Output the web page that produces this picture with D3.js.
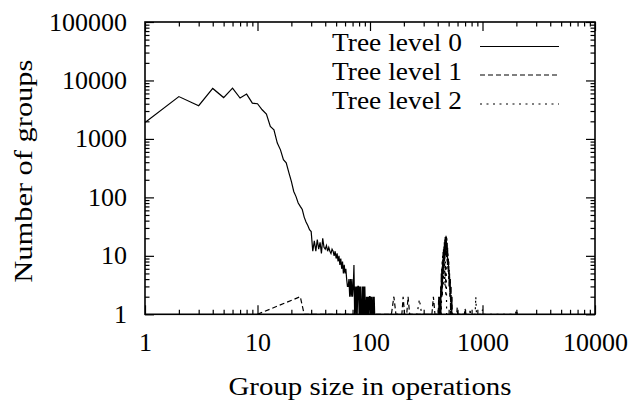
<!DOCTYPE html>
<html>
<head>
<meta charset="utf-8">
<script src="https://cdn.jsdelivr.net/npm/d3@7"></script>
</head>
<body style="margin:0">
<svg id="s" width="635" height="405"></svg>
<script>
// Group-size distribution per tree level (log-log)

const seriesNames = ["Tree level 0", "Tree level 1", "Tree level 2"];

// Tree level 0
const level0Sizes = [
  1, 2, 3, 4, 5, 6, 7, 8, 9, 10,
  11, 12, 13, 14, 15, 16, 17, 18, 19, 20,
  21, 22, 23, 24, 25, 26, 27, 28, 29, 30,
  31, 32, 33, 34, 35, 36, 37, 38, 39, 40,
  41, 42, 43, 44, 45, 46, 47, 48, 49, 50,
  51, 52, 53, 54, 55, 56, 57, 58, 59, 60,
  61, 62, 63, 64, 65, 66, 67, 68, 69, 70,
  71, 72, 73, 74, 75, 76, 77, 78, 79, 80,
  81, 82, 83, 84, 85, 86, 87, 88, 89, 90,
  91, 92, 93, 94, 95, 96, 97, 98, 99, 100,
  101, 102, 103, 104, 105, 106, 107, 108, 109, 110
];
const level0Counts = [
  1900, 5300, 3700, 7300, 5100, 7400, 5000, 5850, 4100, 4000,
  3150, 2650, 1630, 1430, 850, 650, 440, 390, 265, 188,
  126, 103, 80, 70, 62, 46, 38, 33, 28, 26,
  12, 18, 12, 19, 13, 17, 11, 20, 14, 13,
  15, 12, 14, 12, 11, 13, 12, 10, 12, 9,
  11, 8, 10, 7, 9, 6, 8, 5, 7, 5,
  6, 4, 3, 3, 4, 2, 4, 2, 4, 2,
  3, 7, 1, 3, 1, 3, 1, 3, 3, 1,
  3, 1, 3, 1, 1, 3, 1, 3, 1, 3,
  1, 1, 2, 1, 2, 1, 2, 1, 2, 2,
  1, 2, 1, 2, 1, 1, 2, 1, 2, 1
];

// Tree level 1
const level1Sizes = [
  10, 24, 26, 155, 163, 170, 192, 197, 203, 212, 218, 225, 355, 366, 378,
  404, 408, 410, 414, 416, 420, 422, 425, 427, 430, 432, 434, 436, 438, 440,
  442, 444, 446, 448, 450, 452, 454, 456, 458, 460, 462, 464, 466, 468, 470,
  472, 474, 476, 478, 480, 482, 484, 486, 488, 490, 492, 494, 496, 498, 500,
  502, 504, 506, 508, 510, 512, 514, 516, 518, 520, 522, 524, 526, 528, 530,
  533, 536, 540, 555, 590, 596, 602, 690, 700, 710
];
const level1Counts = [
  1, 2, 1, 1, 2, 1, 1, 2, 1, 1, 2, 1, 1, 2, 1,
  1, 2, 1, 2, 1, 2, 1, 3, 1, 5, 2, 6, 2, 8, 3,
  10, 4, 12, 5, 13, 6, 15, 7, 17, 8, 19, 9, 21, 10, 21,
  11, 22, 10, 21, 9, 20, 8, 17, 7, 14, 6, 11, 5, 9, 4,
  8, 3, 6, 3, 5, 2, 4, 2, 4, 1, 3, 1, 3, 1, 2,
  1, 2, 1, 1, 1, 1.3, 1, 1, 1.25, 1
];

// Tree level 2
const level2Sizes = [
  150, 262, 275, 288, 400, 420, 425, 430, 436, 440, 444, 448, 452, 456,
  460, 464, 468, 472, 476, 480, 490, 770, 776, 782, 860, 872, 884, 990, 1000, 1010,
  1960, 2000, 2040
];
const level2Counts = [
  1, 1, 1.8, 1, 1, 1, 3, 1, 6, 2, 9, 3, 10, 4,
  9, 3, 8, 2, 7, 1, 1, 1, 1.25, 1, 1, 2, 1, 1, 1.2, 1,
  1, 1.2, 1
];

// Axis ticks
const xMajorTicks = [1, 10, 100, 1000, 10000];
const xTickLabels = ["1", "10", "100", "1000", "10000"];
const yMajorTicks = [1, 10, 100, 1000, 10000, 100000];
const yTickLabels = ["1", "10", "100", "1000", "10000", "100000"];
const xAxisTitle = "Group size in operations";
const yAxisTitle = "Number of groups";

// ---- layout ----
const serifFace = "Liberation Serif";
const FONT = 26;

const svg = d3.select("#s").attr("font-family", serifFace);
const plotLeft = 145, plotRight = 595, plotTop = 22, plotBottom = 314.3;

const x = d3.scaleLog().domain([1, 10000]).range([plotLeft, plotRight]);
const y = d3.scaleLog().domain([1, 100000]).range([plotBottom, plotTop]);

function minorTicks(majors) {
  const out = [];
  for (let i = 0; i < majors.length - 1; i++) {
    for (let k = 2; k <= 9; k++) out.push(majors[i] * k);
  }
  return out;
}
const xMinor = minorTicks(xMajorTicks);
const yMinor = minorTicks(yMajorTicks);

function styleAxis(g) {
  g.attr("font-family", serifFace).attr("font-size", FONT);
  g.select(".domain").remove();
  g.selectAll(".tick line").attr("stroke", "#000").attr("stroke-width", 1.2);
  g.selectAll(".tick text").style("font-family", serifFace).attr("fill", "#000");
}

// minor ticks on all four sides, pointing inward
svg.append("g").attr("transform", `translate(0,${plotBottom})`)
  .call(d3.axisBottom(x).tickValues(xMinor).tickSize(-4.5).tickFormat(""))
  .call(styleAxis);
svg.append("g").attr("transform", `translate(0,${plotTop})`)
  .call(d3.axisTop(x).tickValues(xMinor).tickSize(-4.5).tickFormat(""))
  .call(styleAxis);
svg.append("g").attr("transform", `translate(${plotLeft},0)`)
  .call(d3.axisLeft(y).tickValues(yMinor).tickSize(-4.5).tickFormat(""))
  .call(styleAxis);
svg.append("g").attr("transform", `translate(${plotRight},0)`)
  .call(d3.axisRight(y).tickValues(yMinor).tickSize(-4.5).tickFormat(""))
  .call(styleAxis);

// major ticks with labels
const xAxis = svg.append("g").attr("transform", `translate(0,${plotBottom})`)
  .call(d3.axisBottom(x).tickValues(xMajorTicks).tickSize(-9)
    .tickFormat((d, i) => xTickLabels[i]))
  .call(styleAxis);
xAxis.selectAll(".tick text")
  .attr("y", 37).attr("dy", null);

svg.append("g").attr("transform", `translate(0,${plotTop})`)
  .call(d3.axisTop(x).tickValues(xMajorTicks).tickSize(-9).tickFormat(""))
  .call(styleAxis);

const yAxis = svg.append("g").attr("transform", `translate(${plotLeft},0)`)
  .call(d3.axisLeft(y).tickValues(yMajorTicks).tickSize(-9)
    .tickFormat((d, i) => yTickLabels[i]))
  .call(styleAxis);
yAxis.selectAll(".tick text")
  .attr("x", -18).attr("y", 8).attr("dy", null);

svg.append("g").attr("transform", `translate(${plotRight},0)`)
  .call(d3.axisRight(y).tickValues(yMajorTicks).tickSize(-9).tickFormat(""))
  .call(styleAxis);

// ---- data lines ----
svg.append("clipPath").attr("id", "plot-clip")
  .append("rect").attr("x", plotLeft).attr("y", plotTop)
  .attr("width", plotRight - plotLeft).attr("height", plotBottom - plotTop);

const line = d3.line().x(d => x(d[0])).y(d => y(d[1]));

const series = [
  { sizes: level0Sizes, counts: level0Counts, dash: null },
  { sizes: level1Sizes, counts: level1Counts, dash: "5,3" },
  { sizes: level2Sizes, counts: level2Counts, dash: "2,4.5" }
];

const plot = svg.append("g").attr("clip-path", "url(#plot-clip)");
series.forEach(s => {
  const pts = s.sizes.map((v, i) => [v, s.counts[i]]);
  plot.append("path")
    .attr("d", line(pts))
    .attr("fill", "none")
    .attr("stroke", "#000")
    .attr("stroke-width", 1.2)
    .attr("stroke-linejoin", "miter")
    .attr("stroke-dasharray", s.dash);
});

// ---- frame ----
svg.append("rect")
  .attr("x", plotLeft).attr("y", plotTop)
  .attr("width", plotRight - plotLeft).attr("height", plotBottom - plotTop)
  .attr("fill", "none").attr("stroke", "#000").attr("stroke-width", 1.6);

// ---- legend ----
const legendBaselines = [51, 79.5, 108.5];
series.forEach((s, i) => {
  svg.append("text")
    .attr("x", 462).attr("y", legendBaselines[i])
    .attr("text-anchor", "end")
    .style("font-family", serifFace)
    .attr("font-size", FONT)
    .text(seriesNames[i])
    .attr("textLength", 130).attr("lengthAdjust", "spacingAndGlyphs");
  svg.append("line")
    .attr("x1", 480).attr("x2", 559)
    .attr("y1", legendBaselines[i] - 4.5).attr("y2", legendBaselines[i] - 4.5)
    .attr("stroke", "#000").attr("stroke-width", 1.2)
    .attr("stroke-dasharray", s.dash);
});

// ---- axis titles ----
svg.append("text")
  .attr("x", (plotLeft + plotRight) / 2).attr("y", 395)
  .attr("text-anchor", "middle")
  .style("font-family", serifFace)
  .attr("font-size", FONT)
  .text(xAxisTitle)
  .attr("textLength", 283).attr("lengthAdjust", "spacingAndGlyphs");

svg.append("text")
  .attr("transform", `translate(32,${(plotTop + plotBottom) / 2 + 3}) rotate(-90)`)
  .attr("text-anchor", "middle")
  .style("font-family", serifFace)
  .attr("font-size", FONT)
  .text(yAxisTitle)
  .attr("textLength", 223).attr("lengthAdjust", "spacingAndGlyphs");
</script>
</body>
</html>
